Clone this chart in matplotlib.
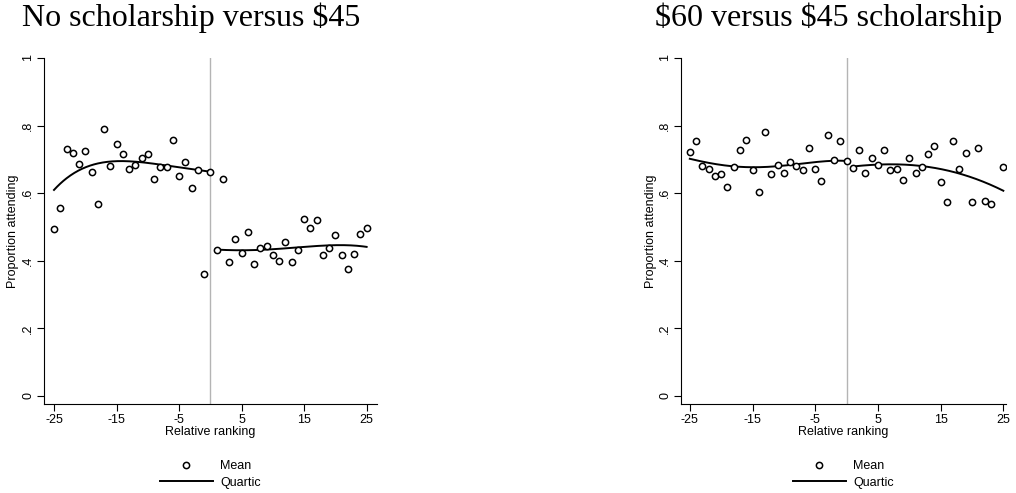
import numpy as np
import matplotlib
matplotlib.use("Agg")
import matplotlib.pyplot as plt

# ranking positions and mean attendance
left_x = [-25, -24, -23, -22, -21, -20, -19, -18, -17, -16, -15, -14, -13, -12, -11, -10,
          -9, -8, -7, -6, -5, -4, -3, -2, -1, 0,
          1, 2, 3, 4, 5, 6, 7, 8, 9, 10, 11, 12, 13, 14, 15, 16, 17, 18, 19, 20,
          21, 22, 23, 24, 25]
left_y = [0.494, 0.556, 0.730, 0.718, 0.687, 0.724, 0.664, 0.568, 0.791, 0.681, 0.745, 0.715,
          0.670, 0.682, 0.705, 0.715, 0.642, 0.676, 0.676, 0.757, 0.651, 0.691, 0.615, 0.668,
          0.361, 0.663,
          0.433, 0.643, 0.396, 0.465, 0.422, 0.484, 0.391, 0.439, 0.444, 0.416, 0.398, 0.454,
          0.396, 0.431, 0.523, 0.497, 0.520, 0.416, 0.439, 0.477, 0.416, 0.375, 0.420, 0.479,
          0.497]

right_x = [-25, -24, -23, -22, -21, -20, -19, -18, -17, -16, -15, -14, -13, -12, -11, -10,
           -9, -8, -7, -6, -5, -4, -3, -2, -1, 0,
           1, 2, 3, 4, 5, 6, 7, 8, 9, 10, 11, 12, 13, 14, 15, 16, 17, 18, 19, 20,
           21, 22, 23, 25]
right_y = [0.723, 0.754, 0.680, 0.670, 0.652, 0.656, 0.617, 0.676, 0.728, 0.757, 0.669, 0.604,
           0.780, 0.656, 0.682, 0.660, 0.692, 0.681, 0.669, 0.734, 0.671, 0.635, 0.771, 0.699,
           0.753, 0.694,
           0.674, 0.728, 0.661, 0.703, 0.682, 0.727, 0.668, 0.671, 0.640, 0.705, 0.659, 0.677,
           0.715, 0.739, 0.634, 0.575, 0.753, 0.670, 0.720, 0.575, 0.734, 0.578, 0.568, 0.678]

# quartic curve values (left and right of the cutoff)
fit_left_a_x = [-25, -23, -21, -19, -17, -15, -13, -10, -7, -4, -2, 0]
fit_left_a_y = [0.610, 0.642, 0.670, 0.682, 0.691, 0.694, 0.695, 0.691, 0.679, 0.675, 0.669, 0.663]
fit_left_b_x = [1, 5, 10, 15, 20, 25]
fit_left_b_y = [0.433, 0.431, 0.434, 0.441, 0.446, 0.441]
fit_right_a_x = [-25, -22, -19, -15, -11, -7, -3, 0]
fit_right_a_y = [0.702, 0.689, 0.681, 0.678, 0.679, 0.687, 0.696, 0.695]
fit_right_b_x = [1, 5, 10, 12, 15, 18, 21, 25]
fit_right_b_y = [0.679, 0.684, 0.684, 0.681, 0.670, 0.658, 0.640, 0.607]

titles = ["No scholarship versus $45", "$60 versus $45 scholarship"]
yticks = [0, 0.2, 0.4, 0.6, 0.8, 1]
ytick_labels = ["0", ".2", ".4", ".6", ".8", "1"]
xticks = [-25, -15, -5, 5, 15, 25]

plt.rcParams["font.family"] = "Liberation Sans"
plt.rcParams["axes.unicode_minus"] = False

fig = plt.figure(figsize=(10.16, 4.93), dpi=100)
ax1 = fig.add_axes([0.0433, 0.1805, 0.3277, 0.7019])
ax2 = fig.add_axes([0.6703, 0.1805, 0.3197, 0.7019])


def quartic(ax, xs, ys):
    xs = np.array(xs, dtype=float)
    coef = np.polyfit(xs, ys, 4)
    grid = np.linspace(xs.min(), xs.max(), 200)
    ax.plot(grid, np.polyval(coef, grid), color="black", lw=1.4, zorder=3)


def style(ax, xlim):
    ax.axvline(0, color="#b4b4b4", lw=1.0, zorder=1)
    ax.set_xlim(*xlim)
    ax.set_ylim(-0.024, 1.0)
    ax.set_xticks(xticks)
    ax.set_yticks(yticks)
    ax.set_yticklabels(ytick_labels, rotation=90, va="center")
    ax.tick_params(axis="both", labelsize=9, length=5, width=0.8, pad=2)
    ax.spines["top"].set_visible(False)
    ax.spines["right"].set_visible(False)
    for s in ["left", "bottom"]:
        ax.spines[s].set_linewidth(0.8)
    ax.set_xlabel("Relative ranking", fontsize=9, labelpad=0)
    ax.set_ylabel("Proportion attending", fontsize=9, labelpad=2)
    ax.legend(loc="upper center", bbox_to_anchor=(0.5, -0.13), frameon=False,
              fontsize=9, handlelength=4.2, labelspacing=0.35, handletextpad=0.6)


ax1.plot(left_x, left_y, "o", mfc="white", mec="black", ms=4.5, mew=1.1, zorder=4, label="Mean")
quartic(ax1, fit_left_a_x, fit_left_a_y)
quartic(ax1, fit_left_b_x, fit_left_b_y)
ax1.plot([], [], color="black", lw=1.4, label="Quartic")
style(ax1, (-26.6, 26.65))

ax2.plot(right_x, right_y, "o", mfc="white", mec="black", ms=4.5, mew=1.1, zorder=4, label="Mean")
quartic(ax2, fit_right_a_x, fit_right_a_y)
quartic(ax2, fit_right_b_x, fit_right_b_y)
ax2.plot([], [], color="black", lw=1.4, label="Quartic")
style(ax2, (-26.4, 25.4))

fig.text(22 / 1016, 1 - 26 / 493, titles[0], fontsize=23, family="Liberation Serif",
         va="baseline", parse_math=False)
fig.text(655 / 1016, 1 - 26 / 493, titles[1], fontsize=23, family="Liberation Serif",
         va="baseline", parse_math=False)

fig.savefig("out.png", dpi=100)
